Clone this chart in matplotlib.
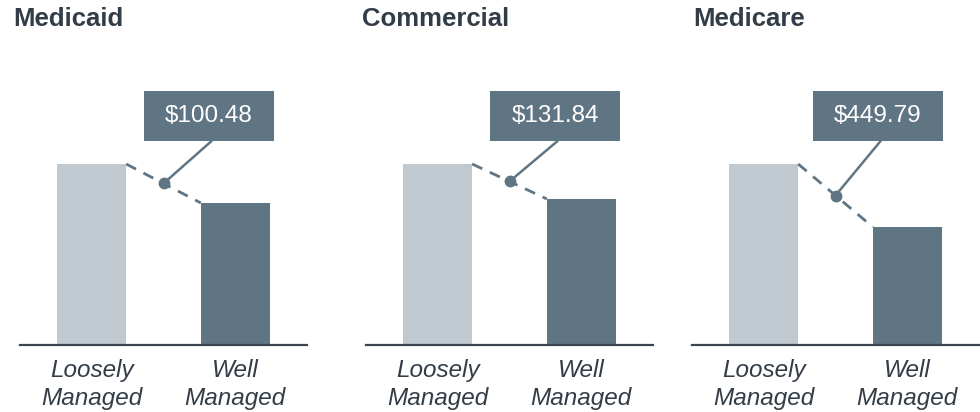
import matplotlib.pyplot as plt
from matplotlib.patches import Rectangle

plt.rcParams["font.family"] = ["Liberation Sans", "DejaVu Sans"]

# values (loose bar scaled the same in every panel)
payers = ["Medicaid", "Commercial", "Medicare"]
categories = ["Loosely\nManaged", "Well\nManaged"]
loose_cost = [467.0, 683.0, 1292.0]
savings = [100.48, 131.84, 449.79]
well_cost = [l - s for l, s in zip(loose_cost, savings)]

light = "#bfc9cf"
dark = "#607583"
axis_col = "#3a4550"
text_col = "#333d47"

W, H = 980, 412
fig = plt.figure(figsize=(W / 100, H / 100), dpi=100)

ax_left = [20, 366, 692]
title_x = [13, 362, 693]
ax_w = 287
base_y = 345
top_y = 40
ax_h = base_y - top_y
loose_px = 181  # bar height in pixels

for i, name in enumerate(payers):
    ax = fig.add_axes([ax_left[i] / W, 1 - base_y / H, ax_w / W, ax_h / H])
    ymax = loose_cost[i] * ax_h / loose_px
    ax.set_xlim(-0.5, 1.5)
    ax.set_ylim(0, ymax)
    ax.bar([0, 1], [loose_cost[i], well_cost[i]], width=0.48,
           color=[light, dark], zorder=2)
    for s in ["top", "right", "left"]:
        ax.spines[s].set_visible(False)
    ax.spines["bottom"].set_color(axis_col)
    ax.spines["bottom"].set_linewidth(1.6)
    ax.set_yticks([])
    ax.set_xticks([0, 1])
    ax.set_xticklabels(categories, fontsize=17.5, style="italic", color=text_col,
                       linespacing=1.28)
    ax.tick_params(axis="x", length=0, pad=10)

    # dashed connector between the bar tops
    x0, x1 = 0.24, 0.76
    ax.plot([x0, x1], [loose_cost[i], well_cost[i]], color=dark, lw=2,
            dashes=(4, 3), zorder=3)
    mx, my = (x0 + x1) / 2, (loose_cost[i] + well_cost[i]) / 2
    ax.plot([mx], [my], "o", color=dark, ms=7.5, zorder=4)

    # callout box
    bw, bh = 130 / ax_w, 50 / ax_h
    bx = (124 - (i == 2) * 3) / ax_w
    by = (base_y - 141) / ax_h
    ax.add_patch(Rectangle((bx, by), bw, bh, transform=ax.transAxes,
                           facecolor=dark, edgecolor="none", zorder=5,
                           clip_on=False))
    ax.text(bx + bw / 2, by + bh / 2, "${:.2f}".format(savings[i]),
            transform=ax.transAxes, ha="center", va="center",
            fontsize=17.5, color="white", zorder=6)
    ax.annotate("", xy=(mx, my), xytext=(bx + bw * 0.52, by),
                textcoords="axes fraction",
                arrowprops=dict(arrowstyle="-", color=dark, lw=1.8,
                                shrinkA=0, shrinkB=0), zorder=4)

    fig.text(title_x[i] / W, 1 - 19 / H, name, fontsize=18.5, fontweight="bold",
             color=text_col, ha="left", va="center")

fig.savefig("out.png", dpi=100)
